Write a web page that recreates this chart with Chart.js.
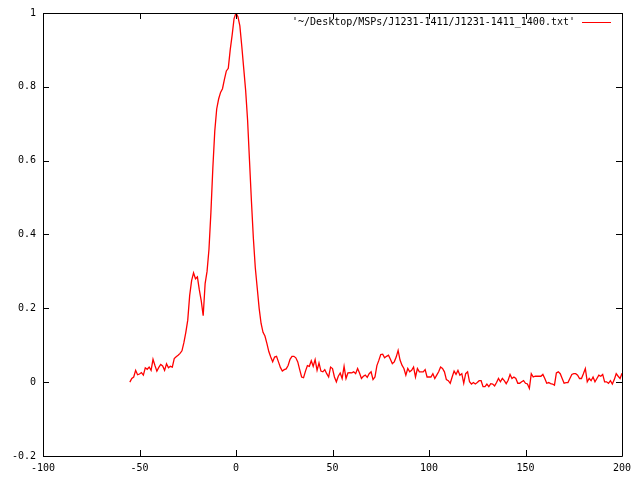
<!DOCTYPE html>
<html>
<head>
<meta charset="utf-8">
<title>J1231-1411 1400</title>
<script src="https://cdn.jsdelivr.net/npm/chart.js@4.4.1/dist/chart.umd.min.js"></script>
<style>
    html, body { margin: 0; padding: 0; background: #fff; }
    #wrap { width: 640px; height: 480px; }
</style>
</head>
<body>
<div id="wrap"><canvas id="profileChart" width="640" height="480"></canvas></div>
<script>
// pulse phase (x) and normalised intensity (y)
const seriesLabel = "'~/Desktop/MSPs/J1231-1411/J1231-1411_1400.txt'";

const phase = [
    -55, -54, -53, -52, -51, -50, -49, -48, -47, -46, -45, -44, -43, -42, -41, -40,
    -39, -38, -37, -36, -35, -34, -33, -32, -31, -30, -29, -28, -27, -26, -25, -24,
    -23, -22, -21, -20, -19, -18, -17, -16, -15, -14, -13, -12, -11, -10, -9, -8,
    -7, -6, -5, -4, -3, -2, -1, 0, 1, 2, 3, 4, 5, 6, 7, 8,
    9, 10, 11, 12, 13, 14, 15, 16, 17, 18, 19, 20, 21, 22, 23, 24,
    25, 26, 27, 28, 29, 30, 31, 32, 33, 34, 35, 36, 37, 38, 39, 40,
    41, 42, 43, 44, 45, 46, 47, 48, 49, 50, 51, 52, 53, 54, 55, 56,
    57, 58, 59, 60, 61, 62, 63, 64, 65, 66, 67, 68, 69, 70, 71, 72,
    73, 74, 75, 76, 77, 78, 79, 80, 81, 82, 83, 84, 85, 86, 87, 88,
    89, 90, 91, 92, 93, 94, 95, 96, 97, 98, 99, 100, 101, 102, 103, 104,
    105, 106, 107, 108, 109, 110, 111, 112, 113, 114, 115, 116, 117, 118, 119, 120,
    121, 122, 123, 124, 125, 126, 127, 128, 129, 130, 131, 132, 133, 134, 135, 136,
    137, 138, 139, 140, 141, 142, 143, 144, 145, 146, 147, 148, 149, 150, 151, 152,
    153, 154, 155, 156, 157, 158, 159, 160, 161, 162, 163, 164, 165, 166, 167, 168,
    169, 170, 171, 172, 173, 174, 175, 176, 177, 178, 179, 180, 181, 182, 183, 184,
    185, 186, 187, 188, 189, 190, 191, 192, 193, 194, 195, 196, 197, 198, 199, 200
];

const intensity = [
    0.0, 0.01, 0.014, 0.032, 0.02, 0.022, 0.026, 0.019, 0.039, 0.035, 0.041, 0.032, 0.062, 0.045, 0.03, 0.04,
    0.048, 0.044, 0.032, 0.05, 0.039, 0.043, 0.041, 0.064, 0.069, 0.073, 0.078, 0.085, 0.107, 0.135, 0.168, 0.235,
    0.275, 0.296, 0.28, 0.285, 0.25, 0.22, 0.18, 0.267, 0.3, 0.36, 0.46, 0.58, 0.68, 0.74, 0.767, 0.785,
    0.795, 0.82, 0.843, 0.85, 0.9, 0.94, 0.985, 1.0, 0.99, 0.965, 0.91, 0.85, 0.79, 0.71, 0.6, 0.49,
    0.39, 0.31, 0.255, 0.2, 0.159, 0.135, 0.125, 0.105, 0.083, 0.068, 0.055, 0.068, 0.07, 0.055, 0.04, 0.03,
    0.034, 0.036, 0.045, 0.062, 0.07, 0.07, 0.066, 0.055, 0.034, 0.014, 0.012, 0.03, 0.045, 0.043, 0.058, 0.043,
    0.061, 0.032, 0.052, 0.03, 0.028, 0.034, 0.023, 0.014, 0.041, 0.037, 0.014, 0.001, 0.016, 0.025, 0.01, 0.043,
    0.01, 0.025, 0.026, 0.025, 0.028, 0.023, 0.037, 0.025, 0.01, 0.016, 0.019, 0.013, 0.023, 0.028, 0.007, 0.014,
    0.045, 0.059, 0.075, 0.076, 0.066, 0.07, 0.073, 0.062, 0.05, 0.055, 0.068, 0.086, 0.06, 0.046, 0.037, 0.019,
    0.037, 0.028, 0.032, 0.041, 0.014, 0.037, 0.028, 0.028, 0.028, 0.034, 0.014, 0.014, 0.014, 0.023, 0.01, 0.019,
    0.028, 0.041, 0.037, 0.028, 0.007, 0.004, -0.003, 0.014, 0.03, 0.021, 0.032, 0.019, 0.023, -0.003, 0.023, 0.028,
    0.001, -0.005, -0.001, -0.005, -0.001, 0.004, 0.004, -0.012, -0.012, -0.005, -0.012, -0.004, -0.005, -0.01, -0.001, 0.01,
    0.001, 0.01, 0.004, -0.004, 0.005, 0.021, 0.01, 0.014, 0.01, -0.003, -0.003, 0.001, 0.004, -0.003, -0.005, -0.017,
    0.023, 0.014, 0.016, 0.016, 0.016, 0.016, 0.021, 0.01, -0.003, -0.001, -0.004, -0.005, -0.008, 0.025, 0.028, 0.023,
    0.01, -0.003, -0.001, -0.001, 0.01, 0.021, 0.023, 0.023, 0.019, 0.01, 0.01, 0.023, 0.037, 0.001, 0.01, 0.004,
    0.014, 0.001, 0.01, 0.019, 0.016, 0.021, 0.001, 0.001, -0.003, 0.004, -0.005, 0.007, 0.023, 0.016, 0.01, 0.024
];

const xTicks = [-100, -50, 0, 50, 100, 150, 200];
const yTicks = [-0.2, 0, 0.2, 0.4, 0.6, 0.8, 1];

const FONT = { family: "'DejaVu Sans Mono', 'Liberation Mono', monospace", size: 10 };

// gnuplot style frame: border, inward ticks on all four sides, key in the top right
const gnuplotFrame = {
    id: 'gnuplotFrame',
    afterDraw(chart) {
        const ctx = chart.ctx;
        const area = chart.chartArea;
        const xs = chart.scales.x;
        const ys = chart.scales.y;
        const tick = 6;

        ctx.save();
        ctx.strokeStyle = '#000';
        ctx.lineWidth = 1;
        ctx.beginPath();
        ctx.rect(Math.round(area.left) + 0.5, Math.round(area.top) + 0.5,
            Math.round(area.right - area.left), Math.round(area.bottom - area.top));

        xTicks.forEach(v => {
            const px = Math.round(xs.getPixelForValue(v)) + 0.5;
            ctx.moveTo(px, area.bottom);
            ctx.lineTo(px, area.bottom - tick);
            ctx.moveTo(px, area.top);
            ctx.lineTo(px, area.top + tick);
        });
        yTicks.forEach(v => {
            const py = Math.round(ys.getPixelForValue(v)) + 0.5;
            ctx.moveTo(area.left, py);
            ctx.lineTo(area.left + tick, py);
            ctx.moveTo(area.right, py);
            ctx.lineTo(area.right - tick, py);
        });
        ctx.stroke();

        // key
        const ds = chart.data.datasets[0];
        const keyY = area.top + 9.5;
        ctx.font = `${FONT.size}px ${FONT.family}`;
        ctx.fillStyle = '#000';
        ctx.textAlign = 'right';
        ctx.textBaseline = 'middle';
        ctx.fillText(ds.label, area.right - 47, keyY);
        ctx.strokeStyle = ds.borderColor;
        ctx.beginPath();
        ctx.moveTo(area.right - 40, keyY);
        ctx.lineTo(area.right - 11, keyY);
        ctx.stroke();
        ctx.restore();
    }
};

document.addEventListener('DOMContentLoaded', () => {
    const points = phase.map((p, i) => ({ x: p, y: intensity[i] }));

    new Chart(document.getElementById('profileChart').getContext('2d'), {
        type: 'scatter',
        data: {
            datasets: [{
                label: seriesLabel,
                data: points,
                showLine: true,
                borderColor: '#ff0000',
                borderWidth: 1.3,
                pointRadius: 0,
                tension: 0,
                fill: false
            }]
        },
        options: {
            responsive: false,
            animation: false,
            events: [],
            layout: { padding: { top: 12, right: 18, left: 0, bottom: 0 } },
            plugins: {
                legend: { display: false },
                tooltip: { enabled: false }
            },
            scales: {
                x: {
                    type: 'linear',
                    min: -100,
                    max: 200,
                    afterBuildTicks: s => { s.ticks = xTicks.map(v => ({ value: v })); },
                    afterFit: s => { s.height = 24; },
                    grid: { display: false, drawTicks: false },
                    border: { display: false },
                    ticks: {
                        color: '#000',
                        font: FONT,
                        padding: 6,
                        maxRotation: 0,
                        autoSkip: false,
                        callback: v => String(v)
                    }
                },
                y: {
                    type: 'linear',
                    min: -0.2,
                    max: 1,
                    afterBuildTicks: s => { s.ticks = yTicks.map(v => ({ value: v })); },
                    afterFit: s => { s.width = 43; },
                    grid: { display: false, drawTicks: false },
                    border: { display: false },
                    ticks: {
                        color: '#000',
                        font: FONT,
                        padding: 7,
                        autoSkip: false,
                        callback: v => String(Math.round(v * 10) / 10)
                    }
                }
            }
        },
        plugins: [gnuplotFrame]
    });
});
</script>
</body>
</html>
